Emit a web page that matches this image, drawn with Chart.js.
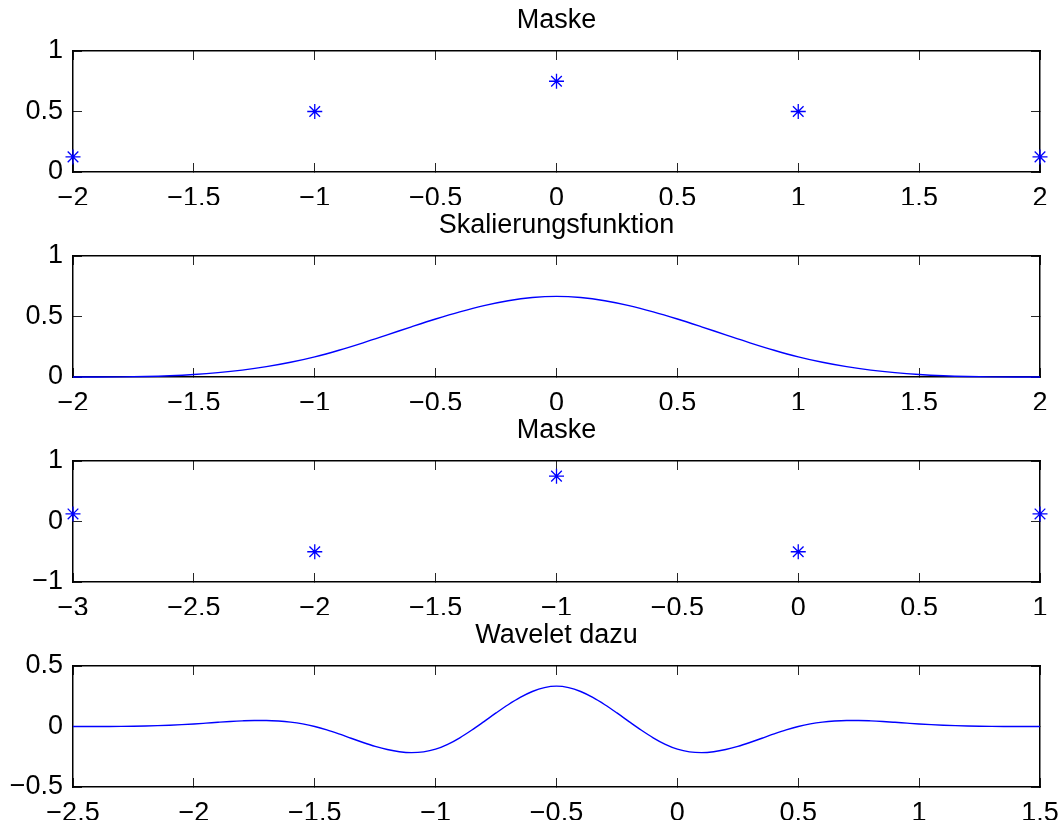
<!DOCTYPE html>
<html>
<head>
<meta charset="utf-8">
<title>Maske / Skalierungsfunktion / Wavelet</title>
<script src="https://cdn.jsdelivr.net/npm/chart.js@4.4.1/dist/chart.umd.min.js"></script>
<style>
  body { margin: 0; background: #fff; }
  canvas.panel { position: absolute; left: 0; }
</style>
</head>
<body>
<canvas id="panel1" class="panel" width="1063" height="205" style="top:0px"></canvas>
<canvas id="panel2" class="panel" width="1063" height="205" style="top:205px"></canvas>
<canvas id="panel3" class="panel" width="1063" height="205" style="top:410px"></canvas>
<canvas id="panel4" class="panel" width="1063" height="205" style="top:615px"></canvas>
<script>
// mask of the scaling function
const maskPhiX = [-2, -1, 0, 1, 2];
const maskPhiY = [0.125, 0.5, 0.75, 0.5, 0.125];

// scaling function
const phiX = [-2, -1.9, -1.8, -1.7, -1.6, -1.5, -1.4, -1.3, -1.2, -1.1,
  -1, -0.9, -0.8, -0.7, -0.6, -0.5, -0.4, -0.3, -0.2, -0.1,
  0, 0.1, 0.2, 0.3, 0.4, 0.5, 0.6, 0.7, 0.8, 0.9,
  1, 1.1, 1.2, 1.3, 1.4, 1.5, 1.6, 1.7, 1.8, 1.9, 2];
const phiY = [0, 0.0002, 0.0013, 0.0045, 0.0107, 0.0208, 0.036, 0.0572, 0.0853, 0.1215,
  0.1667, 0.2212, 0.2827, 0.3482, 0.4147, 0.4792, 0.5387, 0.5902, 0.6307, 0.6572,
  0.6667, 0.6572, 0.6307, 0.5902, 0.5387, 0.4792, 0.4147, 0.3482, 0.2827, 0.2212,
  0.1667, 0.1215, 0.0853, 0.0572, 0.036, 0.0208, 0.0107, 0.0045, 0.0013, 0.0002, 0];

// mask of the wavelet
const maskPsiX = [-3, -2, -1, 0, 1];
const maskPsiY = [0.125, -0.5, 0.75, -0.5, 0.125];

// wavelet
const psiX = [-2.5, -2.45, -2.4, -2.35, -2.3, -2.25, -2.2, -2.15, -2.1, -2.05,
  -2, -1.95, -1.9, -1.85, -1.8, -1.75, -1.7, -1.65, -1.6, -1.55,
  -1.5, -1.45, -1.4, -1.35, -1.3, -1.25, -1.2, -1.15, -1.1, -1.05,
  -1, -0.95, -0.9, -0.85, -0.8, -0.75, -0.7, -0.65, -0.6, -0.55,
  -0.5, -0.45, -0.4, -0.35, -0.3, -0.25, -0.2, -0.15, -0.1, -0.05,
  0, 0.05, 0.1, 0.15, 0.2, 0.25, 0.3, 0.35, 0.4, 0.45,
  0.5, 0.55, 0.6, 0.65, 0.7, 0.75, 0.8, 0.85, 0.9, 0.95,
  1, 1.05, 1.1, 1.15, 1.2, 1.25, 1.3, 1.35, 1.4, 1.45, 1.5];
const psiY = [0, 0, 0.0002, 0.0006, 0.0013, 0.0026, 0.0045, 0.0071, 0.0107, 0.0152,
  0.0208, 0.0276, 0.0347, 0.0413, 0.0465, 0.0495, 0.0493, 0.0452, 0.0362, 0.0214,
  0, -0.0283, -0.0615, -0.0969, -0.132, -0.1641, -0.1905, -0.2087, -0.216, -0.2098,
  -0.1875, -0.1476, -0.0933, -0.0291, 0.0408, 0.112, 0.18, 0.2405, 0.2892, 0.3216,
  0.3333, 0.3216, 0.2892, 0.2405, 0.18, 0.112, 0.0408, -0.0291, -0.0933, -0.1476,
  -0.1875, -0.2098, -0.216, -0.2087, -0.1905, -0.1641, -0.132, -0.0969, -0.0615, -0.0283,
  0, 0.0214, 0.0362, 0.0452, 0.0493, 0.0495, 0.0465, 0.0413, 0.0347, 0.0276,
  0.0208, 0.0152, 0.0107, 0.0071, 0.0045, 0.0026, 0.0013, 0.0006, 0.0002, 0, 0];

// tick values of each panel
const ticksX1 = [-2, -1.5, -1, -0.5, 0, 0.5, 1, 1.5, 2];
const ticksY1 = [0, 0.5, 1];
const ticksX2 = [-2, -1.5, -1, -0.5, 0, 0.5, 1, 1.5, 2];
const ticksY2 = [0, 0.5, 1];
const ticksX3 = [-3, -2.5, -2, -1.5, -1, -0.5, 0, 0.5, 1];
const ticksY3 = [-1, 0, 1];
const ticksX4 = [-2.5, -2, -1.5, -1, -0.5, 0, 0.5, 1, 1.5];
const ticksY4 = [-0.5, 0, 0.5];

const blue = '#0000ff';
const fontFamily = '"Liberation Sans", Arial, Helvetica, sans-serif';

function toPoints(xs, ys) {
  return xs.map((x, i) => ({ x: x, y: ys[i] }));
}

function starSet(xs, ys) {
  return {
    data: toPoints(xs, ys),
    showLine: false,
    pointStyle: 'star',
    pointRadius: 7.5,
    pointBorderWidth: 1.3,
    borderColor: blue,
    backgroundColor: blue,
    clip: false
  };
}

function curveSet(xs, ys) {
  return {
    data: toPoints(xs, ys),
    showLine: true,
    pointRadius: 0,
    borderWidth: 1.4,
    borderColor: blue,
    cubicInterpolationMode: 'monotone',
    clip: false
  };
}

function useTicks(list) {
  return function (scale) {
    scale.ticks = list.map(v => ({ value: v }));
  };
}

function makePanel(id, title, datasets, xt, yt) {
  // matlab style: ticks point inwards on all four sides, no grid
  const grid = { drawOnChartArea: false, drawTicks: true, tickLength: -9, color: '#262626', lineWidth: 1 };
  const edge = { display: true, color: '#000', width: 1.5 };
  const labels = {
    color: '#000',
    font: { family: fontFamily, size: 27 },
    autoSkip: false,
    maxRotation: 0,
    callback: v => String(v).replace('-', '\u2212')
  };
  const xMin = xt[0], xMax = xt[xt.length - 1];
  const yMin = yt[0], yMax = yt[yt.length - 1];

  new Chart(document.getElementById(id), {
    type: 'scatter',
    data: { datasets: datasets },
    options: {
      responsive: false,
      animation: false,
      events: [],
      layout: { padding: 0 },
      plugins: {
        legend: { display: false },
        tooltip: { enabled: false },
        title: {
          display: true,
          text: title,
          fullSize: false,
          color: '#000',
          font: { family: fontFamily, size: 27, weight: 'normal' },
          padding: { top: 4, bottom: 14.6 }
        }
      },
      scales: {
        x: {
          type: 'linear', position: 'bottom', min: xMin, max: xMax,
          afterBuildTicks: useTicks(xt),
          // fixed box; end labels may hang over the sides
          afterFit: s => { s.height = 33; s.paddingLeft = 0; s.paddingRight = 0; },
          grid: grid, border: edge,
          ticks: Object.assign({ padding: 19.3 }, labels)
        },
        xTop: {
          type: 'linear', axis: 'x', position: 'top', min: xMin, max: xMax,
          afterBuildTicks: useTicks(xt),
          afterFit: s => { s.height = 0; s.paddingLeft = 0; s.paddingRight = 0; },
          grid: grid, border: edge,
          ticks: { display: false }
        },
        y: {
          type: 'linear', position: 'left', min: yMin, max: yMax,
          afterBuildTicks: useTicks(yt),
          afterFit: s => { s.width = 73; s.paddingTop = 0; s.paddingBottom = 0; },
          grid: grid, border: edge,
          ticks: Object.assign({ padding: 19 }, labels)
        },
        yRight: {
          type: 'linear', axis: 'y', position: 'right', min: yMin, max: yMax,
          afterBuildTicks: useTicks(yt),
          afterFit: s => { s.width = 23; s.paddingTop = 0; s.paddingBottom = 0; },
          grid: grid, border: edge,
          ticks: { display: false }
        }
      }
    }
  });
}

makePanel('panel1', 'Maske', [starSet(maskPhiX, maskPhiY)], ticksX1, ticksY1);
makePanel('panel2', 'Skalierungsfunktion', [curveSet(phiX, phiY)], ticksX2, ticksY2);
makePanel('panel3', 'Maske', [starSet(maskPsiX, maskPsiY)], ticksX3, ticksY3);
makePanel('panel4', 'Wavelet dazu', [curveSet(psiX, psiY)], ticksX4, ticksY4);
</script>
</body>
</html>
